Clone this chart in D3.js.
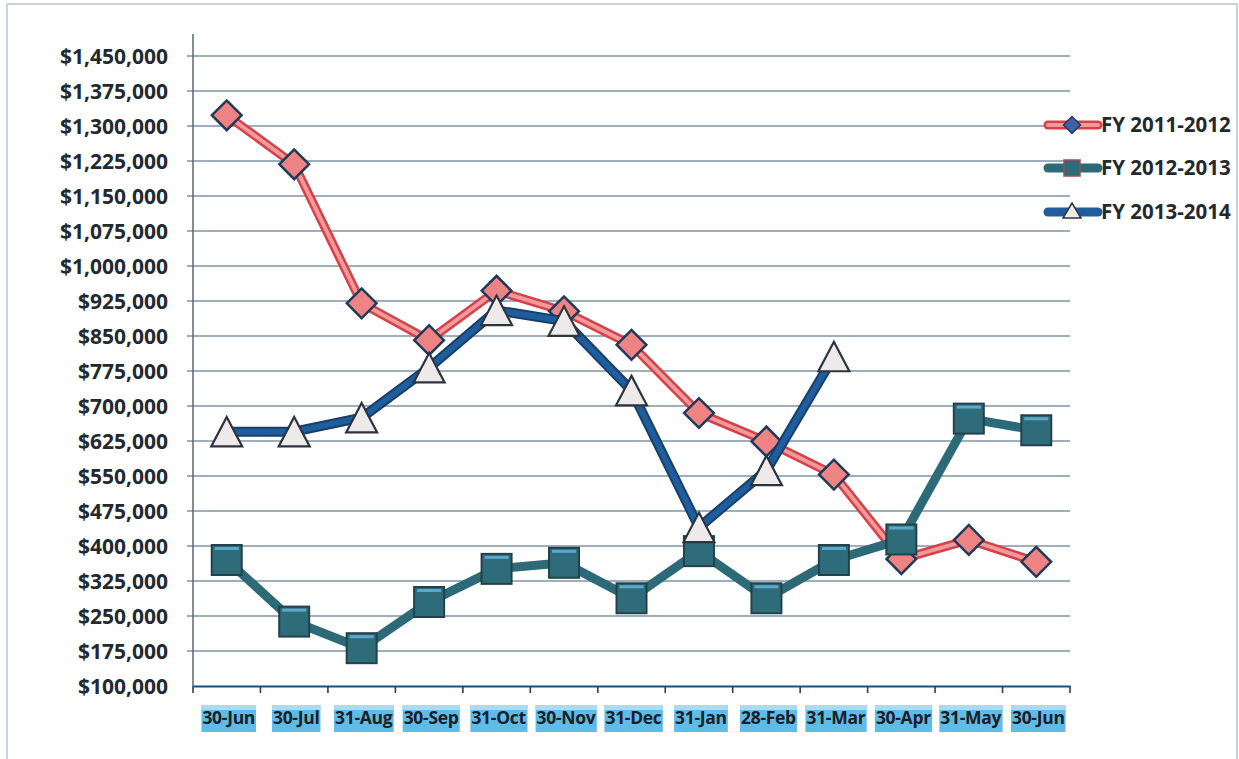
<!DOCTYPE html>
<html>
<head>
<meta charset="utf-8">
<script src="https://cdn.jsdelivr.net/npm/d3@7"></script>
<style>
  html, body { margin: 0; padding: 0; background: #fff; }
  svg { display: block; }
  text { font-family: "Open Sans", "DejaVu Sans", sans-serif; }
</style>
</head>
<body>
<svg id="chart" width="1239" height="759"></svg>
<script>
const categories = ["30-Jun","30-Jul","31-Aug","30-Sep","31-Oct","30-Nov","31-Dec","31-Jan","28-Feb","31-Mar","30-Apr","31-May","30-Jun"];
const seriesNames = ["FY 2011-2012","FY 2012-2013","FY 2013-2014"];
const fy1112 = [1323000, 1218000, 920000, 841000, 947000, 903000, 831000, 685000, 624000, 553000, 372000, 413000, 366000];
const fy1213 = [370000, 238000, 181000, 280000, 351000, 364000, 288000, 389000, 288000, 370000, 414000, 673000, 648000];
const fy1314 = [645000, 645000, 675000, 782000, 905000, 882000, 733000, 440000, 562000, 806000];
const yTicks = d3.range(100000, 1450001, 75000);

const svg = d3.select("#chart");
const x = d3.scaleBand().domain(d3.range(categories.length)).range([193, 1070]).padding(0);
const y = d3.scaleLinear().domain([100000, 1450000]).range([686, 56]);
const cx = i => x(i) + x.bandwidth() / 2;

// frame
svg.append("rect").attr("x", 7).attr("y", 4).attr("width", 1230).attr("height", 760)
  .attr("fill", "none").attr("stroke", "#b9c6d3").attr("stroke-width", 1.5);

// gridlines
svg.append("g").selectAll("line").data(yTicks.slice(1)).join("line")
  .attr("x1", 187).attr("x2", 1070)
  .attr("y1", d => y(d)).attr("y2", d => y(d))
  .attr("stroke", "#7f93a6").attr("stroke-width", 1.3);

// y axis line
svg.append("line").attr("x1", 193).attr("x2", 193).attr("y1", 34).attr("y2", 686)
  .attr("stroke", "#5a6470").attr("stroke-width", 1.5);

// y labels
const fmt = d3.format("$,");
svg.append("g").selectAll("text").data(yTicks).join("text")
  .attr("x", 168).attr("y", d => y(d)).attr("dy", "0.36em")
  .attr("text-anchor", "end")
  .attr("font-size", 21).attr("font-weight", 700).attr("fill", "#23292e")
  .text(d => fmt(d));

// x axis
const xAxis = d3.axisBottom(x).tickValues([]).tickSize(0).tickSizeOuter(0);
const xg = svg.append("g").attr("transform", "translate(0,686)").call(xAxis);
xg.select(".domain").attr("stroke", "#1f4e79").attr("stroke-width", 2.2);
xg.selectAll(".bt").data(d3.range(categories.length + 1)).join("line")
  .attr("class", "bt")
  .attr("x1", i => i < categories.length ? x(i) : x(categories.length - 1) + x.bandwidth())
  .attr("x2", i => i < categories.length ? x(i) : x(categories.length - 1) + x.bandwidth())
  .attr("y1", 0).attr("y2", 7).attr("stroke", "#2b3f55").attr("stroke-width", 1.6);

// x labels with highlight boxes
const lab = svg.append("g").selectAll("g").data(categories).join("g")
  .attr("transform", (d, i) => `translate(${cx(i) + 2},718)`);
lab.each(function(d) {
  const g = d3.select(this);
  const t = g.append("text").attr("text-anchor", "middle").attr("dy", "0.36em")
    .attr("font-size", 17.5).attr("font-weight", 700).attr("fill", "#1b2024")
    .attr("letter-spacing", -0.3).text(d);
  const b = t.node().getBBox();
  g.insert("rect", "text").attr("x", b.x - 1).attr("y", -13).attr("width", b.width + 2).attr("height", 27)
    .attr("fill", "#5fbbe8");
  g.insert("rect", "text").attr("x", b.x - 1).attr("y", -13).attr("width", b.width + 2).attr("height", 5)
    .attr("fill", "#a9dbf3");
});

// series drawing
const line = d3.line().x((d, i) => cx(i)).y(d => y(d));

function diamond(g, px, py, s) {
  g.append("rect").attr("x", px - s / 2).attr("y", py - s / 2).attr("width", s).attr("height", s)
    .attr("transform", `rotate(45,${px},${py})`)
    .attr("fill", "#ee8383").attr("stroke", "#1f3b5c").attr("stroke-width", 2.5);
}
function square(g, px, py, s) {
  g.append("rect").attr("x", px - s / 2).attr("y", py - s / 2).attr("width", s).attr("height", s)
    .attr("fill", "#2f6c7a").attr("stroke", "#23414b").attr("stroke-width", 2);
  g.append("rect").attr("x", px - s / 2 + 3).attr("y", py - s / 2 + 2).attr("width", s - 6).attr("height", 3)
    .attr("fill", "#5aa9cc");
}
function triangle(g, px, py, s) {
  const h = s * 0.95;
  g.append("path").attr("d", `M${px},${py - h / 2}L${px + s / 2},${py + h / 2}L${px - s / 2},${py + h / 2}Z`)
    .attr("fill", "#eeeaea").attr("stroke", "#2c3440").attr("stroke-width", 2.2).attr("stroke-linejoin", "miter");
}

// FY 2011-2012
const g1 = svg.append("g");
g1.append("path").datum(fy1112).attr("d", line).attr("fill", "none")
  .attr("stroke", "#d5404a").attr("stroke-width", 9).attr("stroke-linejoin", "round");
g1.append("path").datum(fy1112).attr("d", line).attr("fill", "none")
  .attr("stroke", "#f29a9a").attr("stroke-width", 4).attr("stroke-linejoin", "round");
fy1112.forEach((v, i) => diamond(g1, cx(i), y(v), 21));

// FY 2012-2013
const g2 = svg.append("g");
g2.append("path").datum(fy1213).attr("d", line).attr("fill", "none")
  .attr("stroke", "#2d6a78").attr("stroke-width", 9).attr("stroke-linejoin", "round");
fy1213.forEach((v, i) => square(g2, cx(i), y(v), 30));

// FY 2013-2014
const g3 = svg.append("g");
g3.append("path").datum(fy1314).attr("d", line).attr("fill", "none")
  .attr("stroke", "#173f6b").attr("stroke-width", 10).attr("stroke-linejoin", "round");
g3.append("path").datum(fy1314).attr("d", line).attr("fill", "none")
  .attr("stroke", "#1f5d9c").attr("stroke-width", 6).attr("stroke-linejoin", "round");
fy1314.forEach((v, i) => triangle(g3, cx(i), y(v), 31));

// legend
const legY = [125, 168, 212];
const leg = svg.append("g");
seriesNames.forEach((name, k) => {
  const ly = legY[k];
  const g = leg.append("g");
  if (k === 0) {
    g.append("line").attr("x1", 1048).attr("x2", 1098).attr("y1", ly).attr("y2", ly)
      .attr("stroke", "#d5404a").attr("stroke-width", 9).attr("stroke-linecap", "round");
    g.append("line").attr("x1", 1048).attr("x2", 1098).attr("y1", ly).attr("y2", ly)
      .attr("stroke", "#f29a9a").attr("stroke-width", 4).attr("stroke-linecap", "round");
    g.append("rect").attr("x", 1072 - 6).attr("y", ly - 6).attr("width", 12).attr("height", 12)
      .attr("transform", `rotate(45,1072,${ly})`).attr("fill", "#3f63a8").attr("stroke", "#1f3b5c").attr("stroke-width", 1.5);
  } else if (k === 1) {
    g.append("line").attr("x1", 1048).attr("x2", 1098).attr("y1", ly).attr("y2", ly)
      .attr("stroke", "#2d6a78").attr("stroke-width", 9).attr("stroke-linecap", "round");
    g.append("rect").attr("x", 1072 - 8).attr("y", ly - 8).attr("width", 16).attr("height", 16)
      .attr("fill", "#2f6c7a").attr("stroke", "#9a4a5a").attr("stroke-width", 1.5);
  } else {
    g.append("line").attr("x1", 1048).attr("x2", 1098).attr("y1", ly).attr("y2", ly)
      .attr("stroke", "#1f5d9c").attr("stroke-width", 9).attr("stroke-linecap", "round");
    g.append("path").attr("d", `M1072,${ly - 9}L1081,${ly + 6}L1063,${ly + 6}Z`)
      .attr("fill", "#eeeaea").attr("stroke", "#2c3440").attr("stroke-width", 1.5);
  }
  g.append("text").attr("x", 1101).attr("y", ly).attr("dy", "0.36em")
    .attr("font-size", 20.5).attr("font-weight", 700).attr("fill", "#23292e").text(name);
});
</script>
</body>
</html>
